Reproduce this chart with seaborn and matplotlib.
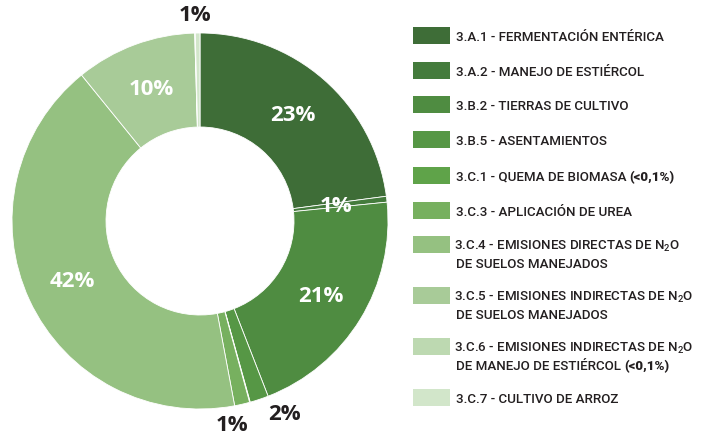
import matplotlib
matplotlib.use("Agg")
import matplotlib.pyplot as plt
import seaborn as sns
from matplotlib.patches import Rectangle
import numpy as np

# ---- data ----
codes = ["3.A.1", "3.A.2", "3.B.2", "3.B.5", "3.C.1", "3.C.3", "3.C.4", "3.C.5", "3.C.6", "3.C.7"]
names = [
    "FERMENTACIÓN ENTÉRICA",
    "MANEJO DE ESTIÉRCOL",
    "TIERRAS DE CULTIVO",
    "ASENTAMIENTOS",
    "QUEMA DE BIOMASA",
    "APLICACIÓN DE UREA",
    "EMISIONES DIRECTAS DE N$_2$O\nDE SUELOS MANEJADOS",
    "EMISIONES INDIRECTAS DE N$_2$O\nDE SUELOS MANEJADOS",
    "EMISIONES INDIRECTAS DE N$_2$O\nDE MANEJO DE ESTIÉRCOL",
    "CULTIVO DE ARROZ",
]
notes = ["", "", "", "", "(<0,1%)", "", "", "", "(<0,1%)", ""]
values = [22.9, 0.5, 20.7, 1.6, 0.05, 1.3, 42.1, 10.4, 0.05, 0.4]
pct_labels = ["23%", "1%", "21%", "2%", "", "1%", "42%", "10%", "", "1%"]
colors = ["#3e6d37", "#447b3c", "#4f8c41", "#569745", "#5fa349", "#77b05f",
          "#95c181", "#a8cb98", "#bdd9b1", "#d2e6ca"]

sns.set_theme(style="white")
LEG_FONT = ["Roboto", "DejaVu Sans"]
plt.rcParams["font.family"] = LEG_FONT
plt.rcParams["mathtext.fontset"] = "custom"
plt.rcParams["mathtext.rm"] = "Roboto:medium"
plt.rcParams["mathtext.it"] = "Roboto:medium"

W, H = 709, 435
fig = plt.figure(figsize=(W / 100, H / 100), dpi=100)
cx, cy, R = 200, 222, 188
ax = fig.add_axes([(cx - R) / W, (H - cy - R) / H, 2 * R / W, 2 * R / H])
wedges, _ = ax.pie(values, colors=colors, startangle=90, counterclock=False,
                   radius=1.0, wedgeprops=dict(width=0.5, edgecolor="white", linewidth=0.6))
ax.set_xlim(-1, 1)
ax.set_ylim(-1, 1)
ax.set_aspect("equal")
ax.axis("off")

# percentage labels
inside = [True, True, True, False, False, False, True, True, False, False]
lab_r = [0.75, 0.73, 0.755, 1.12, 0, 1.095, 0.75, 0.75, 0, 1.10]
ang_nudge = [0, 0, 0, 5.4, 0, -3.9, 0, 0, 0, 0.7]
lab_font = ["Open Sans", "DejaVu Sans"]
for w, lab, ins, r, dn in zip(wedges, pct_labels, inside, lab_r, ang_nudge):
    if not lab:
        continue
    mid = np.deg2rad((w.theta1 + w.theta2) / 2 + dn)
    x, y = r * np.cos(mid), r * np.sin(mid)
    ax.text(x, y, lab, ha="center", va="center", fontsize=16, fontweight="bold",
            family=lab_font, color="white" if ins else "#231f20")

# legend (manual)
sw_x, sw_w, sw_h = 413, 37, 17
row_y = [36, 71, 105, 140, 176, 211, 245, 296, 347, 398]
txt_x = 456
fig.canvas.draw()
renderer = fig.canvas.get_renderer()
# fit font size so that the first entry spans the same width as in the reference
probe = fig.text(0, 0, codes[0] + " - " + names[0], fontsize=10, fontweight="medium")
pw = probe.get_window_extent(renderer=renderer).width
probe.remove()
fs = 10 * 207 / pw
cap = fs * 100 / 72 * 0.711

for code, name, note, col, yc in zip(codes, names, notes, colors, row_y):
    fig.add_artist(Rectangle(((sw_x) / W, (H - yc - sw_h / 2) / H), sw_w / W, sw_h / H,
                             transform=fig.transFigure, facecolor=col, edgecolor="none"))
    lines = (code + " - " + name).split("\n")
    for i, line in enumerate(lines):
        ly = yc + i * 18 + cap / 2
        lx = txt_x - (2 if "$" in line else 0)
        t = fig.text(lx / W, (H - ly) / H, line, ha="left", va="baseline",
                     fontsize=fs, fontweight="medium", color="#231f20")
        if note and i == len(lines) - 1:
            bb = t.get_window_extent(renderer=renderer)
            fig.text((bb.x1 + 3) / W, (H - ly) / H, note, ha="left", va="baseline",
                     fontsize=fs, fontweight="black", color="#231f20")

fig.savefig("out.png", dpi=100, facecolor="white")
